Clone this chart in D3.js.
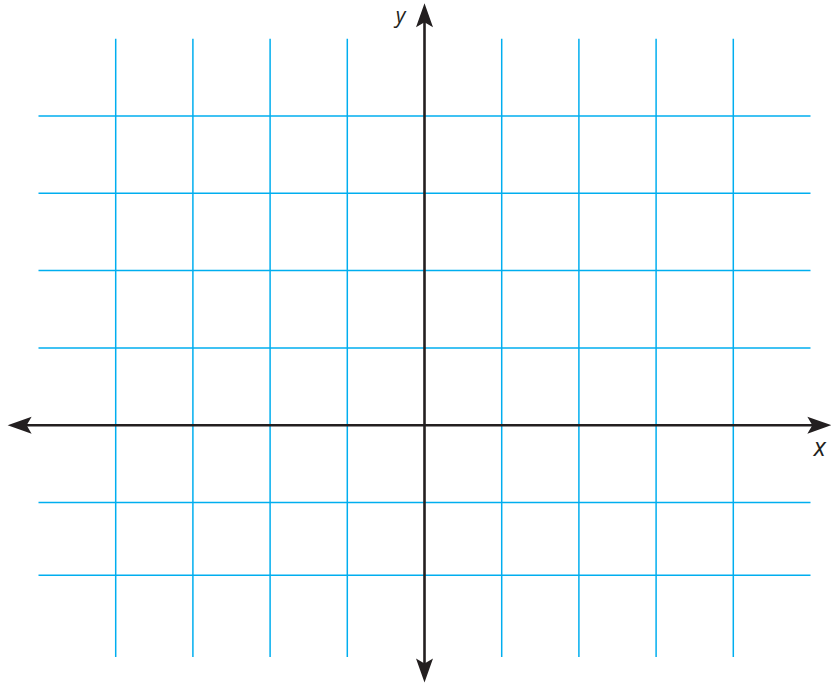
<!DOCTYPE html>
<html>
<head>
<meta charset="utf-8">
<script src="https://cdn.jsdelivr.net/npm/d3@7"></script>
<style>
  body { margin: 0; background: #fff; }
  svg { display: block; }
</style>
</head>
<body>
<div id="grid"></div>
<script>
// Cuadricula de coordenadas
const width = 831;
const height = 688;

// valores de las lineas de la cuadricula (unidades)
let xGridValues = [-4, -3, -2, -1, 1, 2, 3, 4];
let yGridValues = [4, 3, 2, 1, -1, -1.94];
let gridXExtent = [-5, 5];
let gridYExtent = [-3, 5];
let axisXExtent = [-5.4, 5.27];
let axisYExtent = [-3.33, 5.46];
let axisLabels = [
  {text: "x", x: 5.12, y: -0.4},
  {text: "y", x: -0.31, y: 5.2}
];

let xScale = d3.scaleLinear().domain([-4, 4]).range([115.7, 733.3]);
let yScale = d3.scaleLinear().domain([-1, 4]).range([502.5, 116]);

let svg = d3.select("#grid").append("svg")
  .attr("width", width)
  .attr("height", height)
  .attr("viewBox", [0, 0, width, height]);

const gridColor = "#00aeef";
const axisColor = "#231f20";

// Lineas verticales
svg.append("g")
  .selectAll("line")
  .data(xGridValues)
  .join("line")
  .attr("x1", d => xScale(d))
  .attr("x2", d => xScale(d))
  .attr("y1", yScale(gridYExtent[1]))
  .attr("y2", yScale(gridYExtent[0]))
  .attr("stroke", gridColor)
  .attr("stroke-width", 1.5);

// Lineas horizontales
svg.append("g")
  .selectAll("line")
  .data(yGridValues)
  .join("line")
  .attr("x1", xScale(gridXExtent[0]))
  .attr("x2", xScale(gridXExtent[1]))
  .attr("y1", d => yScale(d))
  .attr("y2", d => yScale(d))
  .attr("stroke", gridColor)
  .attr("stroke-width", 1.5);

// Flecha
const arrow = "M0,0 L-8.5,-24 L0,-19 L8.5,-24 Z";

let axes = svg.append("g");

// eje x
axes.append("line")
  .attr("x1", xScale(axisXExtent[0]) + 15)
  .attr("x2", xScale(axisXExtent[1]) - 15)
  .attr("y1", yScale(0))
  .attr("y2", yScale(0))
  .attr("stroke", axisColor)
  .attr("stroke-width", 2.6);

// eje y
axes.append("line")
  .attr("x1", xScale(0))
  .attr("x2", xScale(0))
  .attr("y1", yScale(axisYExtent[1]) + 15)
  .attr("y2", yScale(axisYExtent[0]) - 15)
  .attr("stroke", axisColor)
  .attr("stroke-width", 2.6);

let heads = [
  {x: xScale(axisXExtent[1]), y: yScale(0), rot: -90},
  {x: xScale(axisXExtent[0]), y: yScale(0), rot: 90},
  {x: xScale(0), y: yScale(axisYExtent[1]), rot: 180},
  {x: xScale(0), y: yScale(axisYExtent[0]), rot: 0}
];

axes.selectAll("path")
  .data(heads)
  .join("path")
  .attr("d", arrow)
  .attr("fill", axisColor)
  .attr("transform", d => `translate(${d.x},${d.y}) rotate(${d.rot})`);

// etiquetas
svg.selectAll("text")
  .data(axisLabels)
  .join("text")
  .attr("x", d => xScale(d.x))
  .attr("y", d => yScale(d.y))
  .attr("text-anchor", "middle")
  .style("font-family", "'Open Sans', 'Noto Sans', sans-serif")
  .style("font-style", "italic")
  .style("font-size", d => d.text == "y" ? "21px" : "25px")
  .attr("fill", axisColor)
  .text(d => d.text);
</script>
</body>
</html>
